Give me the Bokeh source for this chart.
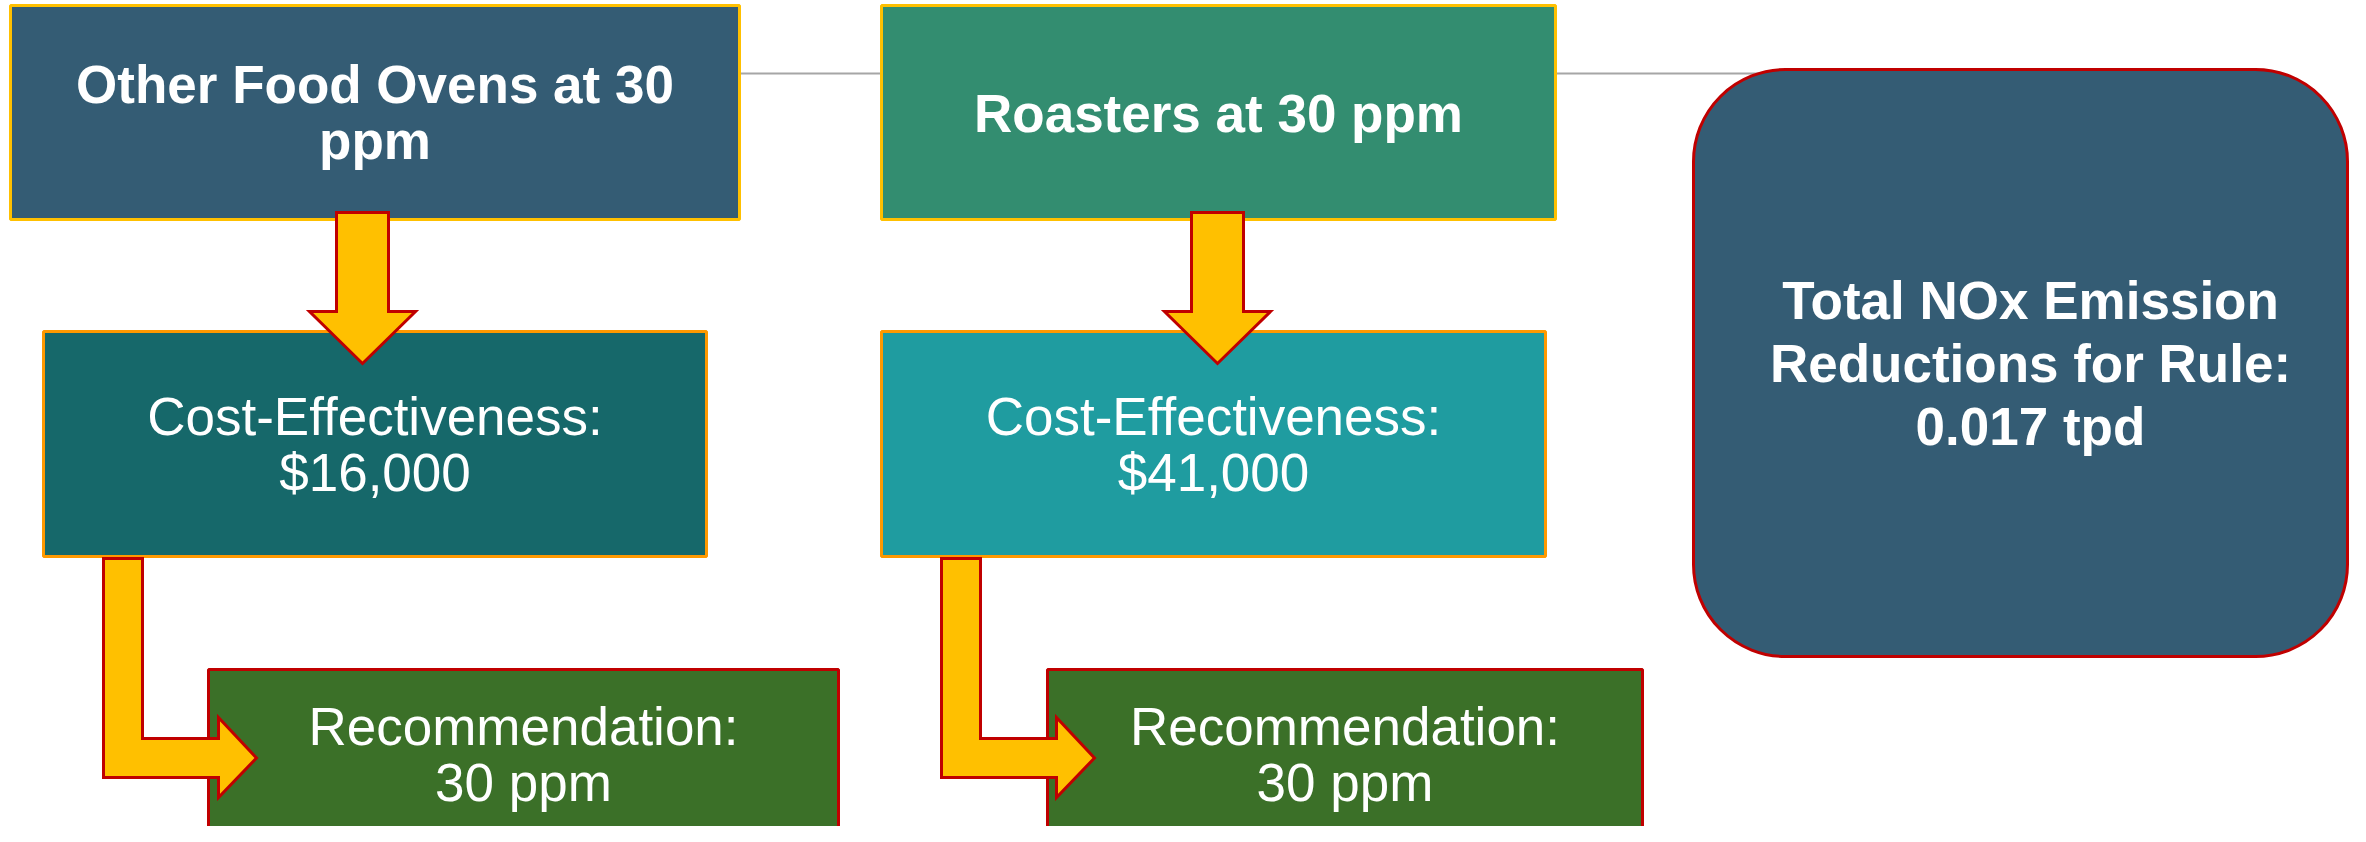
from bokeh.plotting import figure
from bokeh.models import Range1d, ColumnDataSource
from bokeh.core.properties import value
from bokeh.embed import file_html
from bokeh.resources import INLINE

# ---- content ----
box_labels = ["Other Food Ovens at 30\nppm", "Roasters at 30 ppm",
              "Cost-Effectiveness:\n$16,000", "Cost-Effectiveness:\n$41,000",
              "Recommendation:\n30 ppm", "Recommendation:\n30 ppm"]
box_bold = [True, True, False, False, False, False]
total_label = "Total NOx Emission\nReductions for Rule:\n0.017 tpd"

# ---- layout (page pixel coordinates) ----
box_left = [10, 881, 43, 881, 208, 1047]
box_right = [739, 1555, 706, 1545, 838, 1642]
box_top = [5, 5, 331, 331, 669, 669]
box_bottom = [219, 219, 556, 556, 860, 860]
box_fill = ["#345C74", "#338D70", "#16686A", "#1F9CA0", "#3B7028", "#3B7028"]
box_edge = ["#FFC000", "#FFC000", "#FF9900", "#FF9900", "#C00000", "#C00000"]
text_y = [112, 113, 444, 444, 754, 754]

round_box = dict(left=1693, right=2347, top=69, bottom=656, radius=92)
total_text_x, total_text_y = 2030, 363
connector_y = 73
connector_x = [739, 1800]

down_arrow_cx = [362, 1217]
down_shaft_half, down_head_half = 26, 53
down_top, down_head_y, down_tip_y = 212, 311, 363

bent_x0 = [103, 941]
bent_w = 39
bent_top = 558
bent_bar_top, bent_bar_bottom = 738, 777
bent_head_dx, bent_tip_dx = 115, 153
bent_head_top, bent_head_bottom = 717, 797

W, H = 2350, 826
p = figure(width=W, height=H, output_backend="svg", toolbar_location=None,
           x_range=Range1d(0, W), y_range=Range1d(H, 0),
           min_border=0, outline_line_color=None, background_fill_color="white",
           border_fill_color="white")
p.axis.visible = False
p.grid.visible = False

# connector line (behind boxes)
p.line(connector_x, [connector_y, connector_y], line_color="#A6A6A6", line_width=2)

# rectangles
src = ColumnDataSource(dict(l=box_left, r=box_right, t=box_top, b=box_bottom,
                            f=box_fill, e=box_edge))
p.quad(left="l", right="r", top="t", bottom="b", fill_color="f", line_color="e",
       line_width=3, source=src)

# rounded box
p.quad(left=[round_box["left"]], right=[round_box["right"]], top=[round_box["top"]],
       bottom=[round_box["bottom"]], border_radius=round_box["radius"],
       fill_color="#345C74", line_color="#C00000", line_width=3)

# down arrows
xs, ys = [], []
for cx in down_arrow_cx:
    xs.append([cx - down_shaft_half, cx + down_shaft_half, cx + down_shaft_half,
               cx + down_head_half, cx, cx - down_head_half, cx - down_shaft_half])
    ys.append([down_top, down_top, down_head_y, down_head_y, down_tip_y,
               down_head_y, down_head_y])
# bent arrows
for x0 in bent_x0:
    cy = (bent_bar_top + bent_bar_bottom) / 2
    xs.append([x0, x0 + bent_w, x0 + bent_w, x0 + bent_head_dx, x0 + bent_head_dx,
               x0 + bent_tip_dx, x0 + bent_head_dx, x0 + bent_head_dx, x0])
    ys.append([bent_top, bent_top, bent_bar_top, bent_bar_top, bent_head_top,
               cy, bent_head_bottom, bent_bar_bottom, bent_bar_bottom])
p.patches(xs, ys, fill_color="#FFC000", line_color="#C00000", line_width=3,
          line_join="miter")

# texts
cx_boxes = [(a + b) / 2 for a, b in zip(box_left, box_right)]
for bold in (True, False):
    idx = [i for i in range(len(box_labels)) if box_bold[i] == bold]
    p.text(x=[cx_boxes[i] for i in idx], y=[text_y[i] for i in idx],
           text=[box_labels[i] for i in idx],
           text_font=value("Liberation Sans"),
           text_font_style="bold" if bold else "normal",
           text_font_size="53px", text_color="white", text_align="center",
           text_baseline="middle", text_line_height=0.94)

p.text(x=[total_text_x], y=[total_text_y], text=[total_label],
       text_font=value("Liberation Sans"), text_font_style="bold",
       text_font_size="53px", text_color="white", text_align="center",
       text_baseline="middle", text_line_height=1.07)

open("out.html", "w").write(file_html(p, INLINE))
